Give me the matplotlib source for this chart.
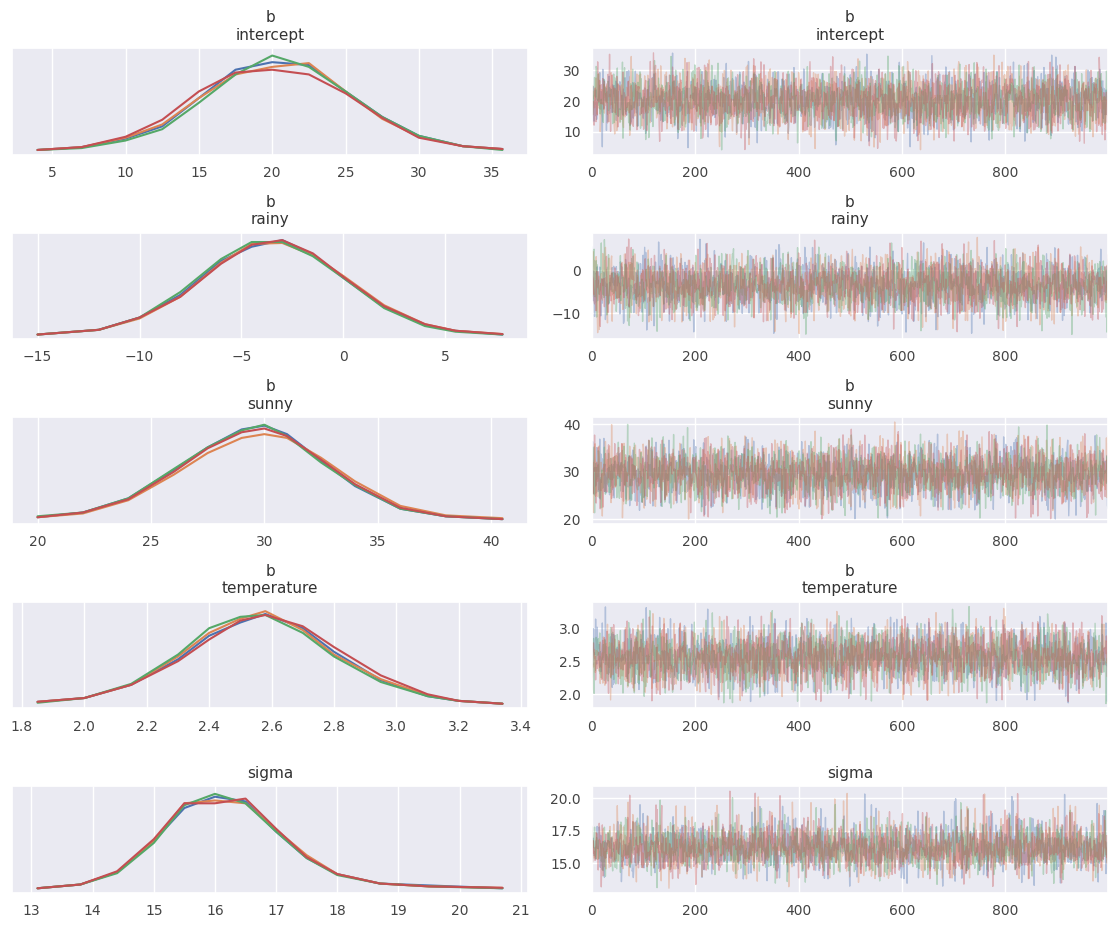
import numpy as np
import matplotlib
matplotlib.use("Agg")
import matplotlib.pyplot as plt
import seaborn as sns

sns.set_theme(style="darkgrid")
plt.rcParams['font.family'] = ['DejaVu Sans']

titles = ["b\nintercept", "b\nrainy", "b\nsunny", "b\ntemperature", "sigma"]
colors = ["#4c72b0", "#dd8452", "#55a868", "#c44e52"]

# density grids (x) and relative densities per chain (blue, orange, green, red)
grid_intercept = [4, 7, 10, 12.5, 15, 17.5, 20, 22.5, 25, 27.5, 30, 33, 35.7]
dens_intercept = [
    [0.0, 0.03, 0.12, 0.25, 0.55, 0.85, 0.93, 0.90, 0.62, 0.35, 0.15, 0.04, 0.01],
    [0.0, 0.03, 0.13, 0.27, 0.55, 0.80, 0.88, 0.92, 0.62, 0.33, 0.14, 0.04, 0.01],
    [0.0, 0.02, 0.10, 0.22, 0.50, 0.80, 1.00, 0.88, 0.62, 0.35, 0.15, 0.04, 0.0],
    [0.0, 0.03, 0.14, 0.32, 0.62, 0.82, 0.85, 0.80, 0.60, 0.34, 0.13, 0.04, 0.01],
]
grid_rainy = [-15, -12, -10, -8, -6, -4.5, -3, -1.5, 0, 2, 4, 5.5, 7.8]
dens_rainy = [
    [0.0, 0.05, 0.18, 0.42, 0.78, 0.93, 1.00, 0.85, 0.60, 0.29, 0.10, 0.04, 0.0],
    [0.0, 0.05, 0.17, 0.40, 0.76, 0.96, 0.97, 0.84, 0.62, 0.31, 0.11, 0.04, 0.005],
    [0.0, 0.05, 0.18, 0.45, 0.80, 0.98, 0.98, 0.83, 0.60, 0.28, 0.09, 0.03, 0.0],
    [0.0, 0.05, 0.18, 0.40, 0.75, 0.95, 1.00, 0.86, 0.61, 0.30, 0.11, 0.04, 0.005],
]
grid_sunny = [20, 22, 24, 26, 27.5, 29, 30, 31, 32.5, 34, 36, 38, 40.5]
dens_sunny = [
    [0.02, 0.07, 0.22, 0.52, 0.76, 0.95, 0.99, 0.90, 0.62, 0.35, 0.11, 0.03, 0.0],
    [0.02, 0.06, 0.20, 0.47, 0.70, 0.86, 0.90, 0.86, 0.65, 0.40, 0.14, 0.04, 0.01],
    [0.03, 0.07, 0.22, 0.53, 0.76, 0.94, 1.00, 0.88, 0.60, 0.36, 0.11, 0.03, 0.0],
    [0.02, 0.07, 0.21, 0.50, 0.75, 0.92, 0.96, 0.88, 0.63, 0.37, 0.12, 0.03, 0.0],
]
grid_temperature = [1.85, 2.0, 2.15, 2.3, 2.4, 2.5, 2.58, 2.7, 2.8, 2.95, 3.1, 3.2, 3.34]
dens_temperature = [
    [0.02, 0.06, 0.20, 0.47, 0.72, 0.86, 0.95, 0.80, 0.55, 0.25, 0.08, 0.03, 0.0],
    [0.02, 0.06, 0.20, 0.50, 0.75, 0.90, 0.98, 0.78, 0.52, 0.26, 0.09, 0.03, 0.0],
    [0.01, 0.06, 0.21, 0.52, 0.80, 0.92, 0.94, 0.75, 0.50, 0.23, 0.08, 0.03, 0.0],
    [0.02, 0.06, 0.20, 0.45, 0.68, 0.88, 0.94, 0.82, 0.60, 0.30, 0.10, 0.03, 0.0],
]
grid_sigma = [13.1, 13.8, 14.4, 15, 15.5, 16, 16.5, 17, 17.5, 18, 18.7, 19.5, 20.7]
dens_sigma = [
    [0.0, 0.04, 0.17, 0.50, 0.85, 0.97, 0.92, 0.60, 0.32, 0.15, 0.05, 0.03, 0.0],
    [0.0, 0.04, 0.17, 0.50, 0.90, 0.93, 0.90, 0.62, 0.35, 0.15, 0.05, 0.02, 0.005],
    [0.0, 0.04, 0.16, 0.48, 0.88, 1.00, 0.90, 0.60, 0.32, 0.14, 0.05, 0.02, 0.0],
    [0.0, 0.04, 0.18, 0.52, 0.90, 0.90, 0.95, 0.63, 0.33, 0.15, 0.05, 0.02, 0.005],
]
grids = [grid_intercept, grid_rainy, grid_sunny, grid_temperature, grid_sigma]
denss = [dens_intercept, dens_rainy, dens_sunny, dens_temperature, dens_sigma]

trace_yticks = [[10, 20, 30], [-10, 0], [20, 30, 40], [2.0, 2.5, 3.0], [15.0, 17.5, 20.0]]
trace_ylabels = [["10", "20", "30"], ["−10", "0"], ["20", "30", "40"],
                 ["2.0", "2.5", "3.0"], ["15.0", "17.5", "20.0"]]
kde_xticks = [[5, 10, 15, 20, 25, 30, 35], [-15, -10, -5, 0, 5], [20, 25, 30, 35, 40],
              [1.8, 2.0, 2.2, 2.4, 2.6, 2.8, 3.0, 3.2, 3.4], [13, 14, 15, 16, 17, 18, 19, 20, 21]]
kde_xlabels = [None, ["−15", "−10", "−5", "0", "5"], None, None, None]
n_draws = 1000

fig, axes = plt.subplots(5, 2, figsize=(11.19, 9.31), dpi=100)
rng = np.random.default_rng(3)
for i in range(5):
    axk, axt = axes[i]
    g = np.array(grids[i], float)
    for c in range(4):
        d = np.array(denss[i][c], float)
        axk.plot(g, d, color=colors[c], lw=1.5)
        # trace samples drawn from the read density (inverse CDF)
        cdf = np.concatenate([[0], np.cumsum((d[1:] + d[:-1]) / 2 * np.diff(g))])
        cdf /= cdf[-1]
        s = np.interp(rng.random(n_draws), cdf, g)
        axt.plot(np.arange(n_draws), s, color=colors[c], alpha=0.35, lw=1)
    axk.set_yticks([])
    axk.set_xticks(kde_xticks[i])
    if kde_xlabels[i]:
        axk.set_xticklabels(kde_xlabels[i])
    axk.set_xlim(g[0] - (g[-1] - g[0]) * 0.055, g[-1] + (g[-1] - g[0]) * 0.055)
    axk.set_ylim(-0.05, 1.08)
    axk.set_title(titles[i], fontsize=11, color="#333333")
    axt.set_title(titles[i], fontsize=11, color="#333333")
    axt.set_xlim(0, n_draws - 1)
    axt.set_xticks([0, 200, 400, 600, 800])
    axt.set_yticks(trace_yticks[i])
    axt.set_yticklabels(trace_ylabels[i])
    for ax in (axk, axt):
        ax.tick_params(labelsize=10, pad=2, labelcolor="#444444")

fig.subplots_adjust(left=12/1119, right=1108/1119, top=1-48/931, bottom=1-893/931,
                    hspace=0.73, wspace=0.124)
fig.savefig("out.png", dpi=100)
